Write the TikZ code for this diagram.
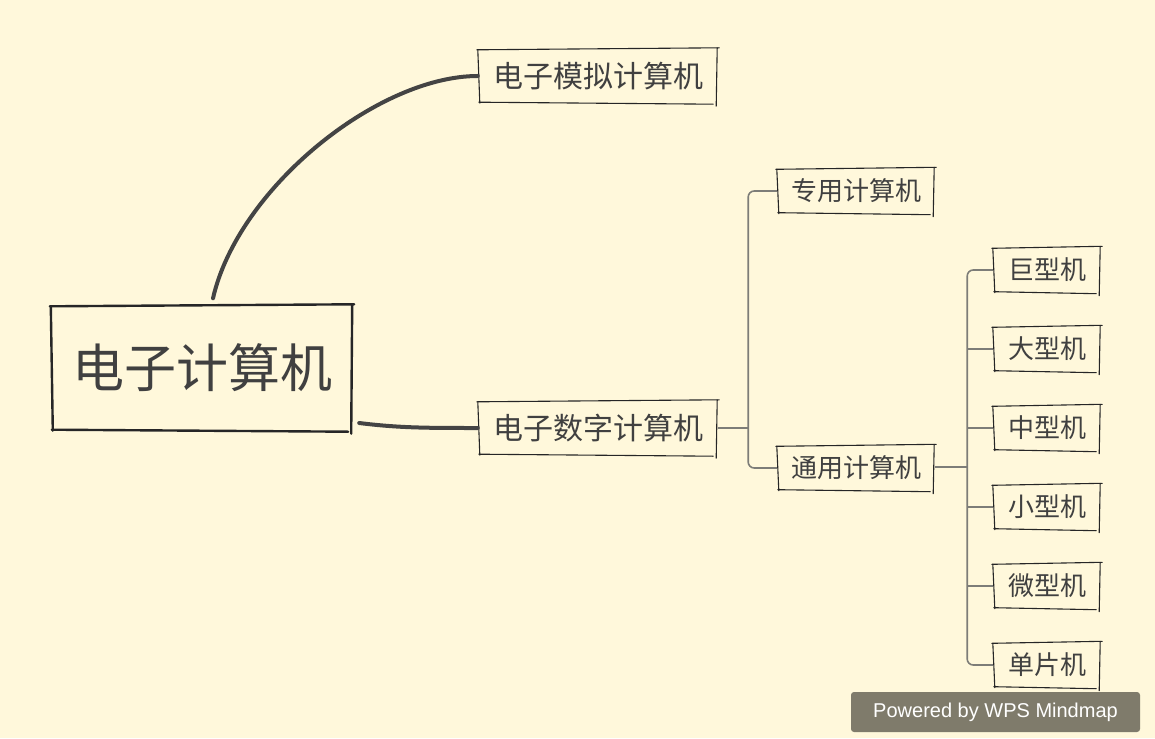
\documentclass[tikz,border=0pt]{standalone}
\usepackage{fontspec}
\usetikzlibrary{calc}
\newfontfamily\cjk{Noto Sans CJK SC}
\newfontfamily\wmfont{Liberation Sans}
\definecolor{paper}{RGB}{255,248,219}
\definecolor{ink}{RGB}{64,64,64}
\definecolor{trunk}{RGB}{68,68,68}
\definecolor{twig}{RGB}{125,125,120}
\definecolor{badge}{RGB}{127,123,107}
\tikzset{
  x=1pt, y=-1pt,
  topic/.style={inner sep=0pt, text=ink, font=\cjk\fontsize{26pt}{26pt}\selectfont,
    minimum width=108pt, minimum height=45pt},
  maintopic/.style={topic, font=\cjk\fontsize{30pt}{30pt}\selectfont,
    minimum width=240pt, minimum height=54pt},
  roottopic/.style={topic, font=\cjk\fontsize{52pt}{52pt}\selectfont,
    minimum width=302pt, minimum height=125pt},
  sketch/.style={draw=black!85, line width=1.1pt, line cap=round},
  thickbranch/.style={draw=trunk, line width=4pt, line cap=round},
  thinbranch/.style={draw=twig, line width=1.6pt, rounded corners=6pt},
}
% hand-drawn looking frame around a node
\newcommand\skbox[2][]{%
  \draw[sketch,#1] ($(#2.north west)+(-1,1)$) -- ($(#2.north east)+(1,-1)$);
  \draw[sketch,#1] ($(#2.north east)+(-1,-1)$) -- ($(#2.south east)+(-2,3)$);
  \draw[sketch,#1] ($(#2.south west)+(1,-1)$) -- ($(#2.south east)+(-5,1)$);
  \draw[sketch,#1] ($(#2.north west)+(0,1)$) -- ($(#2.south west)+(2,0)$);
}
\begin{document}
\begin{tikzpicture}
\fill[paper] (0,0) rectangle (1155,738);
\useasboundingbox (0,0) rectangle (1155,738);

% nodes
\node[roottopic] (root) at (202,368) {\raisebox{-3pt}{电子计算机}};
\node[maintopic] (analog) at (598,76) {电子模拟计算机};
\node[maintopic] (digit) at (598,428) {电子数字计算机};
\node[topic, minimum width=158pt] (special) at (856,191) {专用计算机};
\node[topic, minimum width=158pt] (general) at (856,468) {通用计算机};
\node[topic] (huge) at (1047,270) {巨型机};
\node[topic] (large) at (1047,349) {大型机};
\node[topic] (medium) at (1047,428) {中型机};
\node[topic] (small) at (1047,507) {小型机};
\node[topic] (micro) at (1047,586) {微型机};
\node[topic] (chip) at (1047,665) {单片机};

% frames
\skbox[line width=2.4pt]{root}
\foreach \n in {analog,digit,special,general,huge,large,medium,small,micro,chip}
  {\skbox{\n}}

% main branches
\draw[thickbranch] ($(root.north)+(11,-7)$) .. controls +(25,-110) and +(-100,0) .. (analog.west);
\draw[thickbranch] ($(root.east)+(6,55)$) .. controls +(40,5) and +(-50,0) .. (digit.west);

% sub branches
\coordinate (b1) at ($(digit.east)+(30,0)$);
\draw[thinbranch, rounded corners=0pt] (digit.east) -- (b1);
\draw[thinbranch] (special.west) -- (b1 |- special.west) -- (b1 |- general.west) -- (general.west);

\coordinate (b2) at ($(general.east)+(32,-1)$);
\draw[thinbranch, rounded corners=0pt] ($(general.east)+(0,-1)$) -- (b2);
\draw[thinbranch] (huge.west) -- (b2 |- huge.west) -- (b2 |- chip.west) -- (chip.west);
\foreach \n in {large,medium,small,micro}
  {\draw[thinbranch] (b2 |- \n.west) -- (\n.west);}

% footer badge
\node[fill=badge, rounded corners=3pt, minimum width=289pt, minimum height=40pt,
  text=white, font=\wmfont\fontsize{20pt}{20pt}\selectfont, inner sep=0pt]
  (badge) at (995.5,712) {\raisebox{-2pt}{Powered by WPS Mindmap}};
\end{tikzpicture}
\end{document}
